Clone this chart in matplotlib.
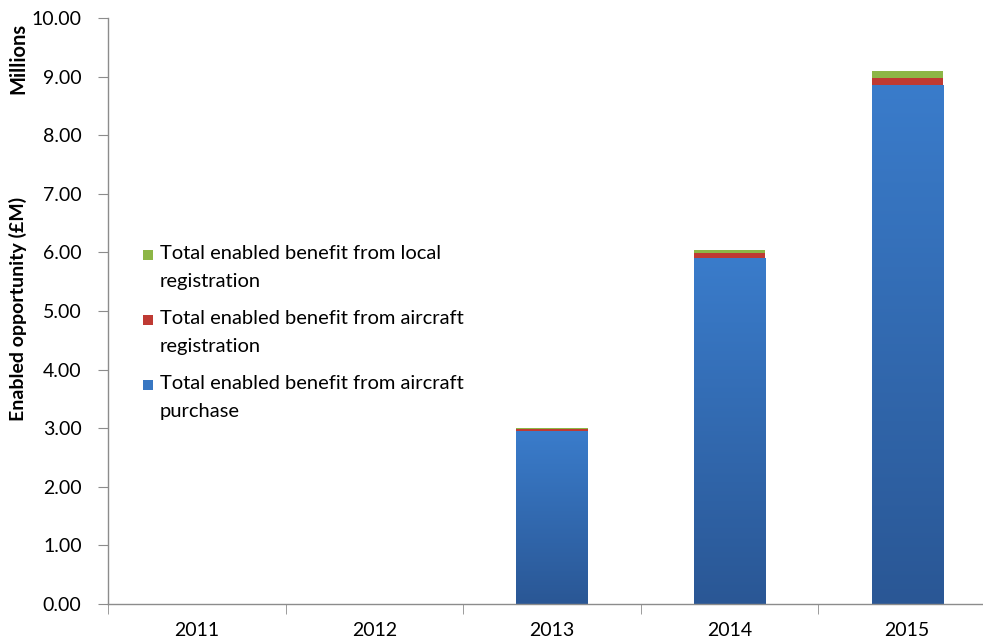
import numpy as np
import matplotlib.pyplot as plt
from matplotlib.colors import LinearSegmentedColormap

plt.rcParams['font.family'] = ['Lato', 'DejaVu Sans']

years = ['2011', '2012', '2013', '2014', '2015']
purchase = [0.0, 0.0, 2.95, 5.91, 8.86]
aircraft_reg = [0.0, 0.0, 0.04, 0.08, 0.12]
local_reg = [0.0, 0.0, 0.01, 0.05, 0.12]

labels = ['Total enabled benefit from local\nregistration',
          'Total enabled benefit from aircraft\nregistration',
          'Total enabled benefit from aircraft\npurchase']
blue = '#3877C2'
red = '#BF3A33'
green = '#8DB646'
axis_grey = '#8C8C8C'

fig = plt.figure(figsize=(9.83, 6.43), dpi=100)
ax = fig.add_axes([108 / 983, 1 - 604 / 643, 888 / 983, 586 / 643])

x = np.arange(len(years))
w = 0.4
purchase = np.array(purchase)
aircraft_reg = np.array(aircraft_reg)
local_reg = np.array(local_reg)

b1 = ax.bar(x, purchase, w, color=blue, zorder=2)
ax.bar(x, aircraft_reg, w, bottom=purchase, color=red, zorder=2)
ax.bar(x, local_reg, w, bottom=purchase + aircraft_reg, color=green, zorder=2)

# vertical shading on the purchase bars, darker toward the base
shade = LinearSegmentedColormap.from_list('shade', ['#2A5795', '#3A7CCB'])
grad = np.linspace(0, 1, 256).reshape(-1, 1)
for rect, v in zip(b1, purchase):
    if v <= 0:
        continue
    x0 = rect.get_x()
    im = ax.imshow(grad, cmap=shade, origin='lower', aspect='auto',
                   extent=[x0, x0 + w, 0, v], zorder=2.5)
    im.set_clip_path(rect)

ax.set_xlim(-0.5, len(years) - 0.5)
ax.set_ylim(0, 10)
ax.set_yticks(np.arange(0, 11, 1))
ax.set_yticklabels([f'{v:.2f}' for v in range(11)])
ax.set_xticks(x)
ax.set_xticklabels(years)
ax.set_xticks(np.arange(-0.5, len(years), 1), minor=True)
ax.tick_params(axis='x', which='major', length=0, pad=13, labelsize=14)
ax.tick_params(axis='x', which='minor', length=7, color=axis_grey, direction='out')
ax.tick_params(axis='y', length=7, color=axis_grey, direction='out', pad=12,
               labelsize=14)

for side in ['top', 'right']:
    ax.spines[side].set_visible(False)
for side in ['left', 'bottom']:
    ax.spines[side].set_color(axis_grey)
    ax.spines[side].set_linewidth(1.0)

fig.text(18 / 983, 1 - 309 / 643, 'Enabled opportunity (£M)', rotation=90,
         fontsize=14, fontweight='bold', ha='center', va='center')
fig.text(18 / 983, 1 - 58 / 643, 'Millions', rotation=90,
         fontsize=14.5, fontweight='bold', ha='center', va='center')

# legend, markers aligned with the first text line
legend_colors = [green, red, blue]
legend_y = [255, 320, 385]
for c, lab, yy in zip(legend_colors, labels, legend_y):
    fig.patches.append(plt.Rectangle((143 / 983, 1 - (yy + 5) / 643), 10 / 983, 10 / 643,
                                     transform=fig.transFigure, facecolor=c,
                                     edgecolor='none'))
    fig.text(160 / 983, 1 - (yy - 10) / 643, lab, fontsize=14.5, ha='left', va='top',
             linespacing=1.8)

fig.savefig('out.png', dpi=100)
